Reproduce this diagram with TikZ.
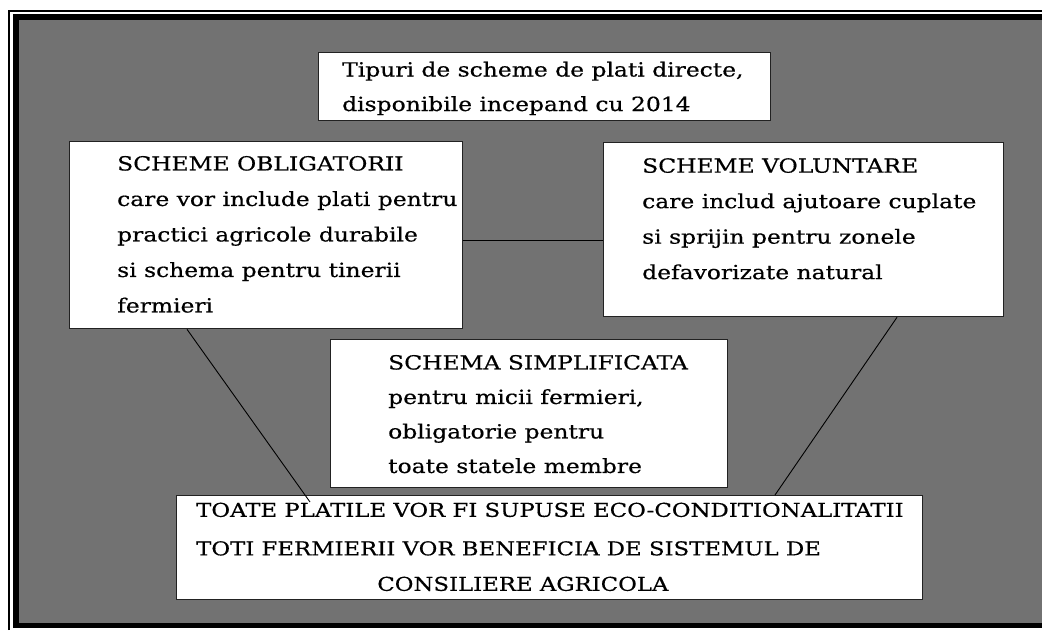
\documentclass[tikz,border=0pt]{standalone}
\usepackage{fontspec}
\setmainfont{DejaVu Serif}[FakeStretch=1.2, FakeBold=0.5]
\usetikzlibrary{positioning}

\definecolor{panelgrey}{RGB}{114,114,114}
\definecolor{edgegrey}{RGB}{34,34,34}

\tikzset{
	box/.style={draw=edgegrey, line width=1.3pt, fill=white,
		anchor=north west, inner sep=0pt},
	boxtext/.style={anchor=north west, align=left, inner sep=0pt,
		font=\fontsize{19.5}{35.5}\selectfont},
	link/.style={draw=black, line width=0.9pt}
}

\begin{document}
\begin{tikzpicture}[x=1pt, y=-1pt]
	% page and frame
	\fill[white] (0,0) rectangle (1042,630);
	\useasboundingbox (0,0) rectangle (1042,630);
	\draw[line width=1.6pt] (9,630) -- (9,11) -- (1042,11);
	\fill[black] (13,14) rectangle (1042,628);
	\fill[panelgrey] (18.5,19.5) rectangle (1042,623);

	% boxes
	\node[box, minimum width=452pt, minimum height=68pt]  (tipuri) at (318,52)  {};
	\node[box, minimum width=393pt, minimum height=187pt] (oblig)  at (69,141)  {};
	\node[box, minimum width=400pt, minimum height=174pt] (volunt) at (603,142) {};
	\node[box, minimum width=397pt, minimum height=148pt] (simpl)  at (330,339) {};
	\node[box, minimum width=746pt, minimum height=104pt] (toate)  at (176,495) {};

	% texts
	\node[boxtext, font=\fontsize{19.5}{34.5}\selectfont,
		below right=9.5pt and 24pt of tipuri.north west] (tipuri-t)
		{Tipuri de scheme de plati directe,\\disponibile incepand cu 2014};
	\node[boxtext, below right=14.8pt and 48pt of oblig.north west] (oblig-t)
		{SCHEME OBLIGATORII\\care vor include plati pentru\\practici agricole durabile\\si schema pentru tinerii\\fermieri};
	\node[boxtext, below right=16pt and 39pt of volunt.north west] (volunt-t)
		{SCHEME VOLUNTARE\\care includ ajutoare cuplate\\si sprijin pentru zonele\\defavorizate natural};
	\node[boxtext, font=\fontsize{19.5}{34.5}\selectfont,
		below right=15.8pt and 58pt of simpl.north west] (simpl-t)
		{SCHEMA SIMPLIFICATA\\pentru micii fermieri,\\obligatorie pentru\\toate statele membre};
	\node[boxtext, font=\fontsize{19}{35.5}\selectfont,
		below right=7.5pt and 20pt of toate.north west] (toate-t)
		{TOATE PLATILE VOR FI SUPUSE ECO-CONDITIONALITATII\\[3pt]
		 TOTI FERMIERII VOR BENEFICIA DE SISTEMUL DE\\
		 \phantom{TOTI FERMIER}CONSILIERE AGRICOLA};

	% connectors
	\draw[link] ([yshift=-5.5pt]oblig.east) -- ([yshift=-5.5pt]oblig.east -| volunt.west);
	\draw[link] ([xshift=118pt]oblig.south west) -- ([xshift=134pt, yshift=-7pt]toate.north west);
	\draw[link] ([xshift=294pt]volunt.south west) -- ([xshift=599pt]toate.north west);
\end{tikzpicture}
\end{document}
